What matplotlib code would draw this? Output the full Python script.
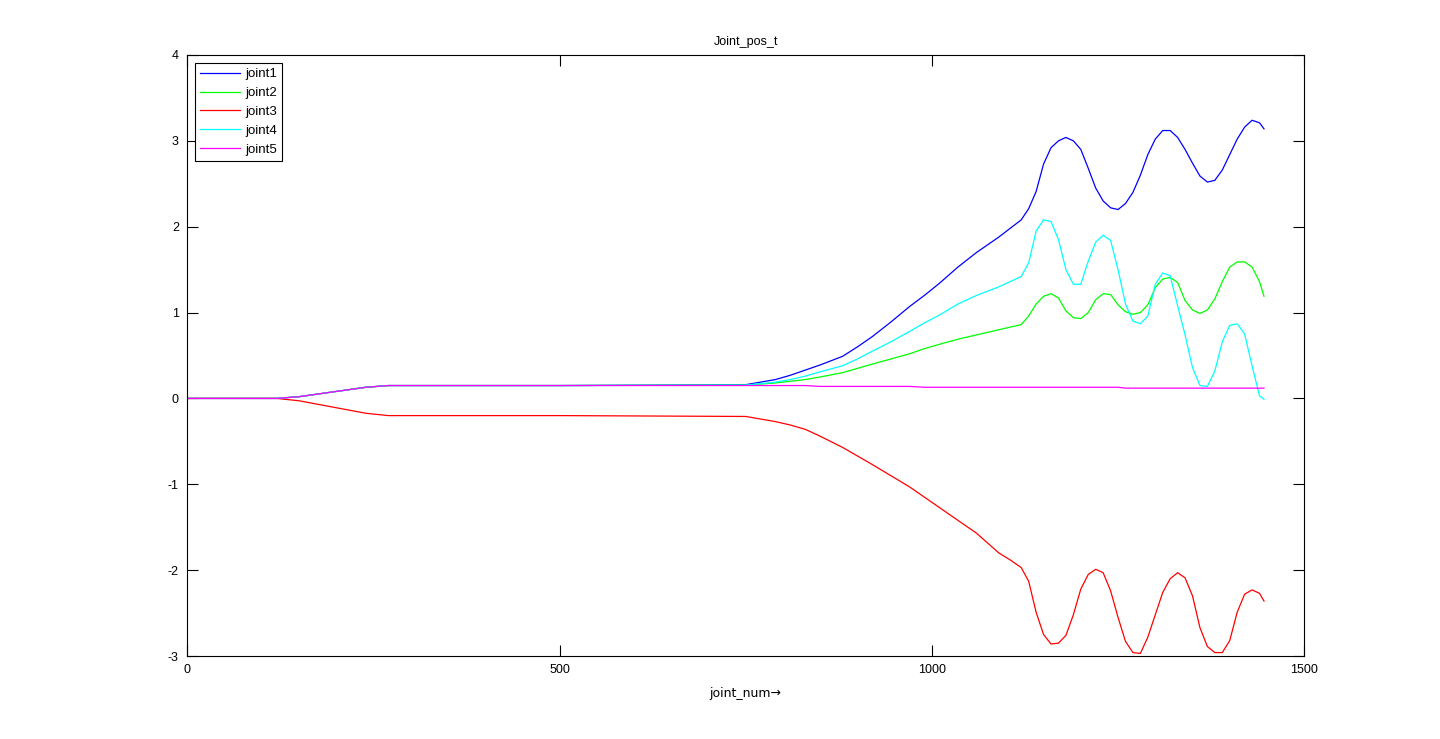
import matplotlib
matplotlib.use('Agg')
import matplotlib.pyplot as plt

plt.rcParams['font.family'] = ['Liberation Sans', 'DejaVu Sans']
plt.rcParams['axes.unicode_minus'] = False

# probki (numer punktu)
x = [0, 120, 150, 195, 240, 270, 500, 750, 790, 810, 830, 850, 880, 900, 920, 945, 970, 990,
     1010, 1035, 1060, 1090, 1105,
     1120, 1130, 1140, 1150, 1160, 1170, 1180, 1190, 1200, 1210, 1220, 1230, 1240, 1250,
     1260, 1270, 1280, 1290, 1300, 1310, 1320, 1330, 1340, 1350, 1360, 1370, 1380, 1390,
     1400, 1410, 1420, 1430, 1440, 1446]

joint1 = [0, 0, 0.02, 0.075, 0.13, 0.15, 0.15, 0.16, 0.22, 0.27, 0.33, 0.39, 0.49, 0.60, 0.72, 0.89, 1.07, 1.20,
          1.34, 1.53, 1.70, 1.88, 1.98,
          2.08, 2.21, 2.41, 2.73, 2.92, 3.00, 3.04, 3.00, 2.90, 2.68, 2.45, 2.30, 2.22, 2.20,
          2.27, 2.40, 2.60, 2.84, 3.02, 3.12, 3.12, 3.04, 2.90, 2.74, 2.59, 2.52, 2.54, 2.66,
          2.84, 3.02, 3.16, 3.24, 3.21, 3.14]

joint2 = [0, 0, 0.02, 0.075, 0.13, 0.15, 0.15, 0.155, 0.18, 0.20, 0.22, 0.25, 0.30, 0.35, 0.40, 0.46, 0.52, 0.58,
          0.63, 0.69, 0.74, 0.80, 0.83,
          0.86, 0.96, 1.10, 1.19, 1.22, 1.17, 1.02, 0.94, 0.93, 1.00, 1.15, 1.22, 1.21, 1.09,
          1.01, 0.98, 1.00, 1.09, 1.29, 1.39, 1.41, 1.35, 1.14, 1.03, 0.99, 1.03, 1.16, 1.36,
          1.53, 1.59, 1.59, 1.53, 1.36, 1.19]

joint3 = [0, 0, -0.027, -0.10, -0.173, -0.2, -0.2, -0.21, -0.27, -0.31, -0.36, -0.44, -0.57, -0.67, -0.77, -0.90, -1.03, -1.15,
          -1.27, -1.42, -1.57, -1.80, -1.88,
          -1.97, -2.13, -2.49, -2.75, -2.86, -2.85, -2.76, -2.52, -2.22, -2.05, -1.99, -2.03, -2.24, -2.55,
          -2.83, -2.96, -2.97, -2.78, -2.52, -2.26, -2.10, -2.03, -2.09, -2.30, -2.67, -2.89, -2.96, -2.96,
          -2.82, -2.49, -2.28, -2.23, -2.27, -2.36]

joint4 = [0, 0, 0.02, 0.075, 0.13, 0.15, 0.15, 0.155, 0.19, 0.22, 0.26, 0.31, 0.38, 0.46, 0.55, 0.66, 0.78, 0.88,
          0.97, 1.10, 1.20, 1.30, 1.36,
          1.42, 1.58, 1.95, 2.08, 2.06, 1.85, 1.50, 1.33, 1.33, 1.60, 1.82, 1.90, 1.84, 1.50,
          1.10, 0.90, 0.87, 0.96, 1.33, 1.46, 1.43, 1.08, 0.74, 0.36, 0.15, 0.14, 0.32, 0.66,
          0.85, 0.87, 0.75, 0.38, 0.03, -0.01]

joint5 = [0, 0, 0.02, 0.075, 0.13, 0.15, 0.15, 0.15, 0.15, 0.15, 0.15, 0.14, 0.14, 0.14, 0.14, 0.14, 0.14, 0.13,
          0.13, 0.13, 0.13, 0.13, 0.13,
          0.13, 0.13, 0.13, 0.13, 0.13, 0.13, 0.13, 0.13, 0.13, 0.13, 0.13, 0.13, 0.13, 0.13,
          0.12, 0.12, 0.12, 0.12, 0.12, 0.12, 0.12, 0.12, 0.12, 0.12, 0.12, 0.12, 0.12, 0.12,
          0.12, 0.12, 0.12, 0.12, 0.12, 0.12]

serie = [joint1, joint2, joint3, joint4, joint5]
nazwy = ['joint1', 'joint2', 'joint3', 'joint4', 'joint5']
kolory = ['#0000ff', '#00ff00', '#ff0000', '#00ffff', '#ff00ff']

fig = plt.figure(figsize=(14.4, 7.39), dpi=100)
ax = fig.add_axes([0.13, 0.1123, 0.7757, 0.8133])

for y, n, k in zip(serie, nazwy, kolory):
    ax.plot(x, y, color=k, lw=0.9, label=n)

ax.set_xlim(0, 1500)
ax.set_ylim(-3, 4)
ax.set_xticks([0, 500, 1000, 1500])
ax.set_yticks([-3, -2, -1, 0, 1, 2, 3, 4])
ax.tick_params(direction='in', length=8, width=0.8, top=True, right=True, labelsize=9, pad=6)
for s in ax.spines.values():
    s.set_linewidth(0.8)

ax.set_title('Joint_pos_t', fontsize=9, pad=7)
ax.set_xlabel('joint_num\u2192', fontsize=9, labelpad=8, family=['DejaVu Sans'])

leg = ax.legend(loc='upper left', fontsize=9.5, fancybox=False, framealpha=1,
                edgecolor='black', handlelength=3.0, labelspacing=0.5,
                borderaxespad=0.6, handletextpad=0.4)
leg.get_frame().set_linewidth(0.8)

fig.savefig('out.png', dpi=100)
